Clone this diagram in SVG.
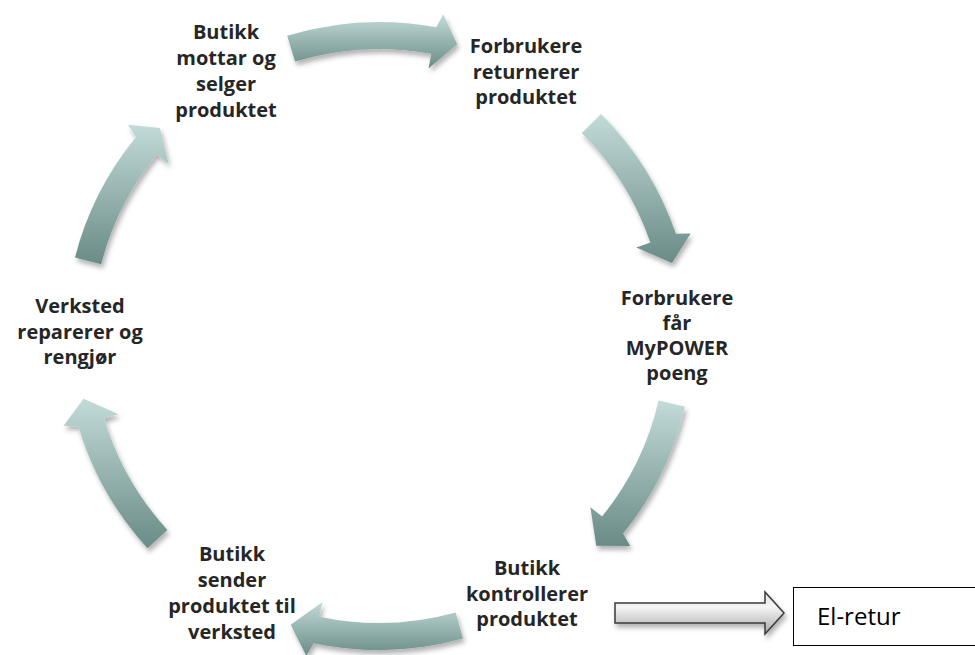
<svg xmlns="http://www.w3.org/2000/svg" width="975" height="655" viewBox="0 0 975 655">
<defs>
<linearGradient id="teal" x1="0" y1="0" x2="0" y2="1">
<stop offset="0" stop-color="#c2dbd8"/>
<stop offset="1" stop-color="#6a8b87"/>
</linearGradient>
<linearGradient id="grey" x1="0" y1="0" x2="0" y2="1">
<stop offset="0" stop-color="#e0e0e0"/>
<stop offset="0.35" stop-color="#f5f5f5"/>
<stop offset="1" stop-color="#a8a8a8"/>
</linearGradient>
<filter id="sh" x="-20%" y="-20%" width="140%" height="140%">
<feDropShadow dx="2" dy="4" stdDeviation="2.5" flood-color="#000" flood-opacity="0.3"/>
</filter>
</defs>
<style>
.arr{fill:url(#teal);filter:url(#sh)}
.lbl{font-family:"Open Sans","Liberation Sans",sans-serif;font-weight:bold;font-size:20px;fill:#262626;text-anchor:middle}
.box{fill:#fff;stroke:#000;stroke-width:1}
.bt{font-family:"Open Sans","Liberation Sans",sans-serif;font-size:24px;fill:#000}
</style>
<rect width="975" height="655" fill="#fff"/>
<g id="connectors">
<path class="arr" d="M287.2,35.72 A314,314 0 0 1 436.22,27.26 L443.27,14.36 L457.16,44.29 L428.57,68.56 L431.3,53.81 A287,287 0 0 0 295.09,61.54 Z"/>
<path class="arr" d="M601.03,113.97 A314,314 0 0 1 675.89,233.77 L690.62,233.56 L672.03,262.94 L636.18,247.44 L650.36,242.56 A287,287 0 0 0 581.94,133.06 Z"/>
<path class="arr" d="M684.95,406.63 A314,314 0 0 1 623.03,533.61 L630.24,545.96 L596.24,545.79 L590.38,507.18 L602.04,516.61 A287,287 0 0 0 658.64,400.56 Z"/>
<path class="arr" d="M462.91,638.58 A314,314 0 0 1 313.72,643.14 L306.34,655.85 L290.7,624.8 L322.45,602.06 L319.33,616.73 A287,287 0 0 0 455.7,612.56 Z"/>
<path class="arr" d="M147.49,548.14 A314,314 0 0 1 78.24,426.23 L63.55,425.86 L83.6,398.79 L118.47,414.16 L104.11,418.47 A287,287 0 0 0 167.4,529.89 Z"/>
<path class="arr" d="M75,257.38 A314,314 0 0 1 136.01,137.12 L128.11,124.73 L159.94,128.12 L168.52,163.72 L156.91,154.22 A287,287 0 0 0 101.14,264.14 Z"/>
<path d="M615,603 H765 V592 L784,613 L765,634 V623 H615 Z" fill="url(#grey)" stroke="#3a3a3a" stroke-width="1.5" filter="url(#sh)"/>
</g>
<g id="n1">
<text class="lbl" x="226" y="39">Butikk</text>
<text class="lbl" x="226" y="65">mottar og</text>
<text class="lbl" x="226" y="91">selger</text>
<text class="lbl" x="226" y="117">produktet</text>
</g>
<g id="n2">
<text class="lbl" x="526" y="53">Forbrukere</text>
<text class="lbl" x="526" y="78.5">returnerer</text>
<text class="lbl" x="526" y="104">produktet</text>
</g>
<g id="n3">
<text class="lbl" x="677" y="305">Forbrukere</text>
<text class="lbl" x="677" y="330">får</text>
<text class="lbl" x="677" y="355">MyPOWER</text>
<text class="lbl" x="677" y="380">poeng</text>
</g>
<g id="n4">
<text class="lbl" x="527" y="575">Butikk</text>
<text class="lbl" x="527" y="601">kontrollerer</text>
<text class="lbl" x="527" y="626">produktet</text>
</g>
<g id="n5">
<text class="lbl" x="232" y="561">Butikk</text>
<text class="lbl" x="232" y="587">sender</text>
<text class="lbl" x="232" y="613">produktet til</text>
<text class="lbl" x="232" y="639">verksted</text>
</g>
<g id="n6">
<text class="lbl" x="80" y="313">Verksted</text>
<text class="lbl" x="80" y="339">reparerer og</text>
<text class="lbl" x="80" y="364">rengjør</text>
</g>
<g id="n7">
<rect class="box" x="793.5" y="587.5" width="200" height="58"/>
<text class="bt" x="817" y="625">El-retur</text>
</g>
</svg>
